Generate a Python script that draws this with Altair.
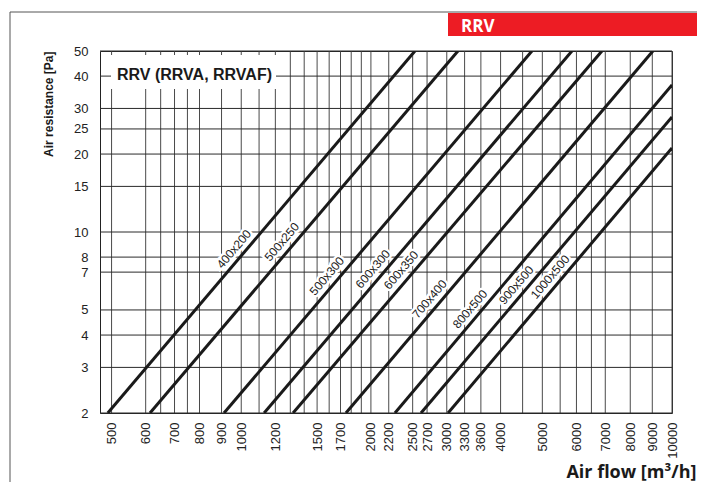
import altair as alt
import pandas as pd

# ---- data ----
sizes = ["400x200", "500x250", "500x300", "600x300", "600x350",
         "700x400", "800x500", "900x500", "1000x500"]
flow_start = [490, 614, 912, 1130, 1319, 1750, 2274, 2614, 3021]
pa_start = [2, 2, 2, 2, 2, 2, 2, 2, 2]
flow_end = [2531, 3185, 4730, 5858, 6877, 9030, 10000, 10000, 10000]
pa_end = [50, 50, 50, 50, 50, 50, 37.0, 27.8, 21.1]
label_flow = [1002, 1294, 1647, 2106, 2449, 2850, 3538, 4532, 5430]
label_pa = [8.11, 8.64, 6.38, 6.79, 6.73, 5.20, 4.76, 5.89, 6.33]

flow_ticks = [500, 600, 700, 800, 900, 1000, 1200, 1500, 1700, 2000, 2200,
              2500, 2700, 3000, 3300, 3600, 4000, 5000, 6000, 7000, 8000,
              9000, 10000]
flow_grid = [500, 600, 650, 700, 750, 800, 900, 1000, 1100, 1200, 1300, 1400,
             1500, 1600, 1700, 1800, 1900, 2000, 2200, 2500, 2700, 3000, 3300,
             3600, 4000, 4500, 5000, 5500, 6000, 6500, 7000, 8000, 9000, 10000]
pa_ticks = [2, 3, 4, 5, 7, 8, 10, 15, 20, 25, 30, 40, 50]

chart_title = "RRV (RRVA, RRVAF)"
banner = "RRV"

# ---- tables ----
lines_df = pd.DataFrame({
    "size": sizes + sizes,
    "flow": flow_start + flow_end,
    "pa": pa_start + pa_end,
})
labels_df = pd.DataFrame({"size": sizes, "flow": label_flow, "pa": label_pa})
xgrid_df = pd.DataFrame({"flow": flow_grid})
ygrid_df = pd.DataFrame({"pa": pa_ticks})
one = pd.DataFrame({"t": [chart_title]})
one_b = pd.DataFrame({"t": [banner]})

xscale = alt.Scale(type="log", domain=[470, 10000], nice=False)
yscale = alt.Scale(type="log", domain=[2, 50], nice=False)

x_axis = alt.Axis(
    values=flow_ticks, format="d", grid=False, ticks=False, domain=False,
    labelAngle=270, labelAlign="right", labelBaseline="middle",
    labelPadding=9, labelFontSize=13, labelFont="Liberation Sans",
    labelColor="#222", labelOverlap=False, labelFlush=False, labelBound=False,
    title="Air flow [m³/h]", titleFont="Open Sans", titleFontSize=18,
    titleFontWeight="bold", titleColor="#1a1a1a", titleAlign="right",
    titleAnchor="end", titleBaseline="alphabetic", titleX=596, titleY=64,
)
y_axis = alt.Axis(
    values=pa_ticks, format="d", grid=False, ticks=False, domain=False,
    labelPadding=12, labelFontSize=13, labelFont="Liberation Sans",
    labelColor="#222", labelOverlap=False, labelFlush=False, labelBound=False,
    title="Air resistance [Pa]", titleFont="Liberation Sans", titleFontSize=12,
    titleFontWeight="bold", titleColor="#1a1a1a", titleAngle=270,
    titleAlign="right", titleBaseline="middle", titleX=-52, titleY=0,
)

xgrid = alt.Chart(xgrid_df).mark_rule(color="#4a4a4a", strokeWidth=1).encode(
    x=alt.X("flow:Q", scale=xscale, axis=x_axis)
)
ygrid = alt.Chart(ygrid_df).mark_rule(color="#2a2a2a", strokeWidth=1).encode(
    y=alt.Y("pa:Q", scale=yscale, axis=y_axis)
)

box = alt.Chart(one).mark_rect(color="white").encode(
    x=alt.value(11), x2=alt.value(176), y=alt.value(4), y2=alt.value(38)
)
box_text = alt.Chart(one).mark_text(
    align="left", baseline="middle", font="Liberation Sans", fontSize=16,
    fontWeight="bold", color="#1a1a1a"
).encode(x=alt.value(17), y=alt.value(24), text="t:N")

lines = alt.Chart(lines_df).mark_line(
    color="#1a1a1a", strokeWidth=3, clip=True
).encode(
    x=alt.X("flow:Q", scale=xscale),
    y=alt.Y("pa:Q", scale=yscale),
    detail="size:N",
)

label_style = dict(align="center", baseline="middle", angle=310.3, dy=-10,
                   font="Liberation Sans", fontSize=12)
halo = alt.Chart(labels_df).mark_text(
    stroke="white", strokeWidth=5, color="white", **label_style
).encode(x=alt.X("flow:Q", scale=xscale), y=alt.Y("pa:Q", scale=yscale),
         text="size:N")
labels = alt.Chart(labels_df).mark_text(color="#222", **label_style).encode(
    x=alt.X("flow:Q", scale=xscale), y=alt.Y("pa:Q", scale=yscale),
    text="size:N")

frame_top = alt.Chart(one).mark_rule(color="#555", strokeWidth=1).encode(
    x=alt.value(-90), x2=alt.value(600), y=alt.value(-39)
)
frame_left = alt.Chart(one).mark_rule(color="#555", strokeWidth=1).encode(
    x=alt.value(-90), y=alt.value(-39), y2=alt.value(440)
)
red = alt.Chart(one_b).mark_rect(color="#ed1c24").encode(
    x=alt.value(348), x2=alt.value(600), y=alt.value(-38), y2=alt.value(-15)
)
red_text = alt.Chart(one_b).mark_text(
    align="left", baseline="alphabetic", font="Open Sans", fontSize=17,
    fontWeight="bold", color="white"
).encode(x=alt.value(361), y=alt.value(-19), text="t:N")

chart = alt.layer(
    xgrid, ygrid, box, box_text, lines, halo, labels,
    frame_top, frame_left, red, red_text
).properties(
    width=572, height=362,
    autosize=alt.AutoSizeParams(type="none"),
    padding={"left": 92, "top": 43, "right": 25, "bottom": 69},
).configure_view(stroke="#222", strokeWidth=1)

chart.save("out.html", embed_options={"renderer": "svg", "actions": False})
